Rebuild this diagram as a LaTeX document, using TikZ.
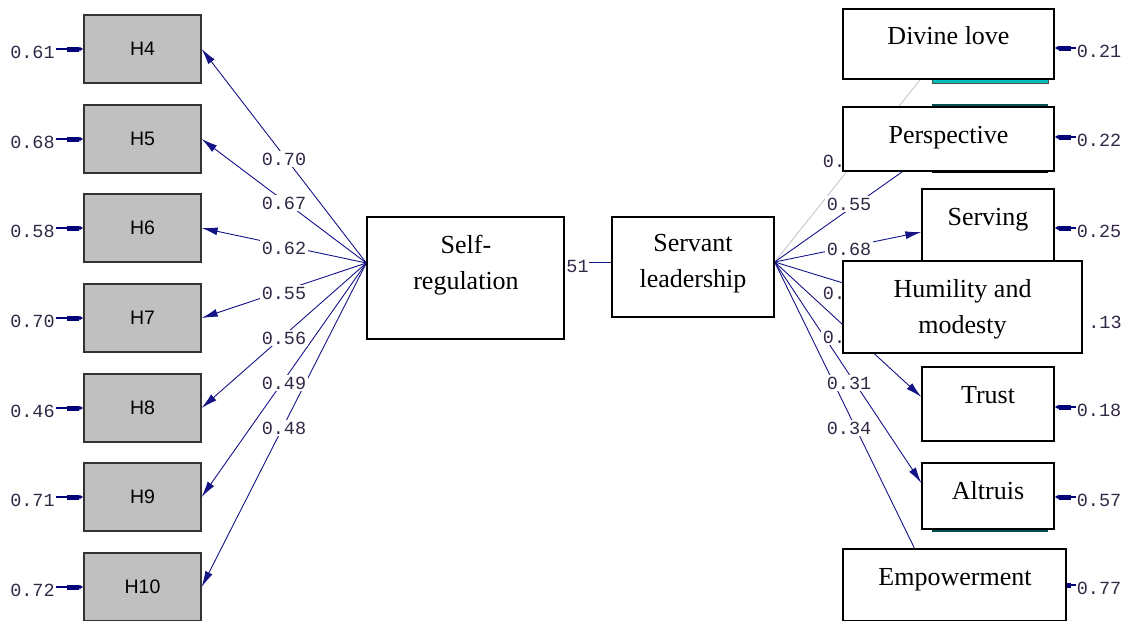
\documentclass[tikz,border=0pt]{standalone}
\usepackage{fontspec}
\setmainfont{Liberation Serif}
\newfontfamily\hfont{Liberation Sans}
\newfontfamily\numfont{Liberation Mono}
\usetikzlibrary{arrows.meta,backgrounds}

\definecolor{boxgray}{RGB}{192,192,192}
\definecolor{numcol}{RGB}{50,40,70}
\definecolor{pathcol}{RGB}{20,20,135}
\definecolor{errcol}{RGB}{0,0,120}
\definecolor{grayline}{RGB}{205,195,205}
\definecolor{cyanbar}{RGB}{0,190,190}
\definecolor{tealbar}{RGB}{0,80,80}

\tikzset{
  latent/.style={draw=black, line width=1.3pt, fill=white, inner sep=0pt},
  boxtext/.style={align=center, inner sep=0pt, font=\fontsize{26}{36}\selectfont},
  obs/.style={draw=black!80, line width=1.3pt, fill=boxgray, minimum width=117pt,
    minimum height=68pt, inner sep=0pt, font=\hfont\fontsize{19.5}{22}\selectfont},
  num/.style={inner sep=1pt, text=numcol, font=\numfont\fontsize{18.5}{20}\selectfont},
  loading/.style={num, fill=white, inner sep=2pt},
  load/.style={draw=pathcol, line width=0.9pt},
  loadarrow/.style={load, -{Latex[length=16pt,width=8pt]}},
  errarrow/.style={draw=errcol, fill=errcol, line width=1.4pt,
    -{Rectangle[length=12pt,width=5pt]Latex[length=4pt,width=5pt]}}
}

\begin{document}
\begin{tikzpicture}[x=1pt,y=-1pt]
  \useasboundingbox (0,0) rectangle (1127,621);

  % indicators of self-regulation
  \node[obs] (H4)  at (142.5,49)  {H4};
  \node[obs] (H5)  at (142.5,139) {H5};
  \node[obs] (H6)  at (142.5,228) {H6};
  \node[obs] (H7)  at (142.5,318) {H7};
  \node[obs] (H8)  at (142.5,408) {H8};
  \node[obs] (H9)  at (142.5,497) {H9};
  \node[obs] (H10) at (142.5,587) {H10};

  \node[num] (e4)  at (32.5,52)  {0.61};
  \node[num] (e5)  at (32.5,142) {0.68};
  \node[num] (e6)  at (32.5,231) {0.58};
  \node[num] (e7)  at (32.5,321) {0.70};
  \node[num] (e8)  at (32.5,411) {0.46};
  \node[num] (e9)  at (32.5,500) {0.71};
  \node[num] (e10) at (32.5,590) {0.72};
  \draw[errarrow] ([yshift=3pt]e4.east)  -- ([yshift=3pt]e4.east -| H4.west);
  \draw[errarrow] ([yshift=3pt]e5.east)  -- ([yshift=3pt]e5.east -| H5.west);
  \draw[errarrow] ([yshift=3pt]e6.east)  -- ([yshift=3pt]e6.east -| H6.west);
  \draw[errarrow] ([yshift=3pt]e7.east)  -- ([yshift=3pt]e7.east -| H7.west);
  \draw[errarrow] ([yshift=3pt]e8.east)  -- ([yshift=3pt]e8.east -| H8.west);
  \draw[errarrow] ([yshift=3pt]e9.east)  -- ([yshift=3pt]e9.east -| H9.west);
  \draw[errarrow] ([yshift=3pt]e10.east) -- ([yshift=3pt]e10.east -| H10.west);

  % the two latent variables
  \node[latent, minimum width=197pt, minimum height=122pt] (selfreg) at (465.5,278) {};
  \node[boxtext] (selfregtext) at (466,265) {Self-\\regulation};
  \node[latent, minimum width=162pt, minimum height=100pt] (servant) at (693,267) {};
  \node[boxtext] (servanttext) at (693,264) {Servant\\leadership};
  \coordinate (selfreg out) at ([yshift=15pt]selfreg.west);
  \coordinate (servant out) at ([yshift=5pt]servant.east);

  % left-over bars of the boxes underneath
  \filldraw[draw=black!70, fill=cyanbar] (932,79) rectangle (1048,83);
  \fill[tealbar] (932,104) rectangle (1048,107);
  \fill[black]   (932,171) rectangle (1048,173);
  \fill[tealbar] (932,529) rectangle (1048,532);

  % indicators of servant leadership
  \node[latent, minimum width=211pt, minimum height=70pt] (divine)      at (948.5,44)  {};
  \node[latent, minimum width=211pt, minimum height=64pt] (perspective) at (948.5,139) {};
  \node[latent, minimum width=132pt, minimum height=72pt] (serving)     at (988,225)   {};
  \node[latent, minimum width=132pt, minimum height=74pt] (trust)       at (988,404)   {};
  \node[latent, minimum width=132pt, minimum height=66pt] (altruis)     at (988,496)   {};
  \node[latent, minimum width=239pt, minimum height=92pt] (humility)    at (962.5,307) {};
  \node[latent, minimum width=223pt, minimum height=72pt] (empower)     at (954.5,585) {};

  \node[boxtext, anchor=base] (divinetext)      at (948.5,44)  {Divine love};
  \node[boxtext, anchor=base] (perspectivetext) at (948.5,143) {Perspective};
  \node[boxtext, anchor=base] (servingtext)     at (988,225)   {Serving};
  \node[boxtext]              (humilitytext)    at (962.5,309) {Humility and\\modesty};
  \node[boxtext, anchor=base] (trusttext)       at (988,403)   {Trust};
  \node[boxtext, anchor=base] (altruistext)     at (988,499)   {Altruis};
  \node[boxtext, anchor=base] (empowertext)     at (955,585)   {Empowerment};

  \node[num] (e21) at (1099,51)  {0.21};
  \node[num] (e22) at (1099,140) {0.22};
  \node[num] (e25) at (1099,231) {0.25};
  \node[num] (e13) at (1105,322) {.13};
  \node[num] (e18) at (1099,410) {0.18};
  \node[num] (e57) at (1099,500) {0.57};
  \node[num] (e77) at (1099,588) {0.77};
  \draw[errarrow] ([yshift=3pt]e21.west) -- ([yshift=3pt]e21.west -| divine.east);
  \draw[errarrow] ([yshift=3pt]e22.west) -- ([yshift=3pt]e22.west -| perspective.east);
  \draw[errarrow] ([yshift=3pt]e25.west) -- ([yshift=3pt]e25.west -| serving.east);
  \draw[errarrow] ([yshift=3pt]e18.west) -- ([yshift=3pt]e18.west -| trust.east);
  \draw[errarrow] ([yshift=3pt]e57.west) -- ([yshift=3pt]e57.west -| altruis.east);

  \begin{pgfonlayer}{background}
    % mostly hidden under the empowerment box
    \draw[errarrow] ([yshift=3pt]e77.west) -- ([yshift=3pt]e77.west -| altruis.east);

    \draw[loadarrow] (selfreg out) -- (H4.east);
    \draw[loadarrow] (selfreg out) -- (H5.east);
    \draw[loadarrow] (selfreg out) -- (H6.east);
    \draw[loadarrow] (selfreg out) -- (H7.east);
    \draw[loadarrow] (selfreg out) -- (H8.east);
    \draw[loadarrow] (selfreg out) -- (H9.east);
    \draw[loadarrow] (selfreg out) -- (H10.east);
    \node[loading] (l4)  at (284,159) {0.70};
    \node[loading] (l5)  at (284,203) {0.67};
    \node[loading] (l6)  at (284,248) {0.62};
    \node[loading] (l7)  at (284,293) {0.55};
    \node[loading] (l8)  at (284,338) {0.56};
    \node[loading] (l9)  at (284,383) {0.49};
    \node[loading] (l10) at (284,428) {0.48};

    \node[num, inner sep=0pt] (l51) at (577.5,266) {51};
    \draw[load] (l51.east |- servant out) -- (servant.west |- servant out);

    \draw[load, draw=grayline] (servant out) -- (divine);
    \draw[load] (servant out) -- (perspective);
    \draw[loadarrow] (servant out) -- ([yshift=-7pt]serving.west);
    \draw[load] (servant out) -- (serving.west |- humility);
    \draw[loadarrow] (servant out) -- ([yshift=7pt]trust.west);
    \draw[loadarrow] (servant out) -- ([yshift=13pt]altruis.west);
    \draw[load] (servant out) -- ([xshift=-40pt]empower.north);
    \node[loading] (ldivine)   at (834,161) {0.};
    \node[loading] (lpersp)    at (849,204) {0.55};
    \node[loading] (lserving)  at (849,249) {0.68};
    \node[loading] (lhumility) at (834,293) {0.};
    \node[loading] (ltrust)    at (834,337) {0.};
    \node[loading] (laltruis)  at (849,383) {0.31};
    \node[loading] (lempower)  at (849,428) {0.34};
  \end{pgfonlayer}
\end{tikzpicture}
\end{document}
